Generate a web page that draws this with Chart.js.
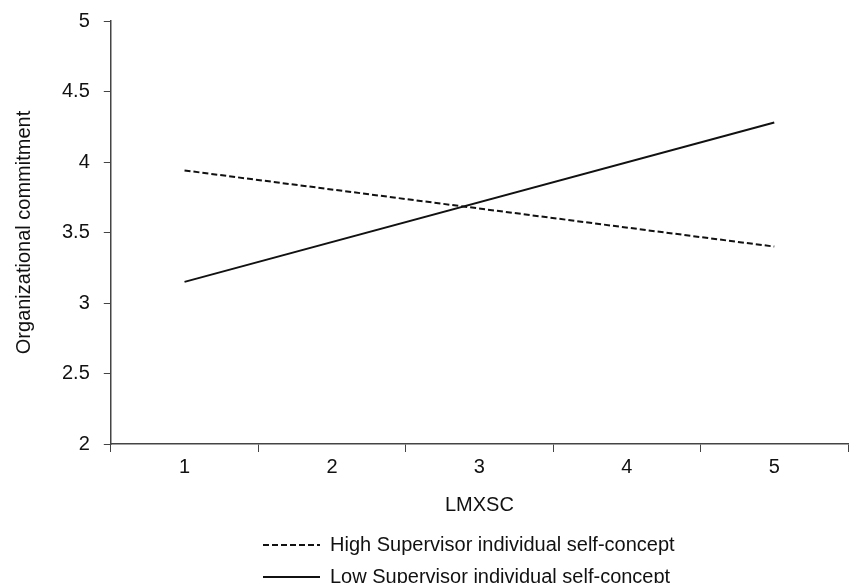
<!DOCTYPE html>
<html>
<head>
<meta charset="utf-8">
<script src="https://cdn.jsdelivr.net/npm/chart.js@4/dist/chart.umd.min.js"></script>
<style>
  html, body { margin: 0; padding: 0; background: #fff; }
  #wrap { width: 850px; height: 583px; }
</style>
</head>
<body>
<div id="wrap"><canvas id="chart1" width="850" height="583"></canvas></div>
<script>
// 데이터
var lmxscLabels = ['1', '2', '3', '4', '5'];
var highSupervisor = [3.94, null, null, null, 3.40];
var lowSupervisor = [3.15, null, null, null, 4.28];
var yTicks = [2, 2.5, 3, 3.5, 4, 4.5, 5];

var axisColor = '#444';
var textColor = '#111';
var fontFamily = 'Arial, "Liberation Sans", Helvetica, sans-serif';
var fontSize = 20;
var legendStartX = 263;

// 범례 두 줄, 왼쪽 정렬
var legendRows = {
  id: 'legendRows',
  afterLayout: function (chart) {
    var lg = chart.legend;
    if (!lg) return;
    var w = lg.left + lg.options.labels.padding + lg.right - 2 * legendStartX;
    lg.lineWidths = lg.legendItems.map(function () { return w; });
    lg.bottom = chart.height;
    lg.height = lg.bottom - lg.top;
  }
};

const ctx1 = document.getElementById('chart1');
const lineChart1 = new Chart(ctx1, {
  type: 'line',
  data: {
    labels: lmxscLabels,
    datasets: [{
      label: 'High Supervisor individual self-concept',
      data: highSupervisor,
      borderColor: '#111',
      borderWidth: 2,
      borderDash: [6, 3],
      pointRadius: 0,
      spanGaps: true,
      fill: false
    }, {
      label: 'Low Supervisor individual self-concept',
      data: lowSupervisor,
      borderColor: '#111',
      borderWidth: 2,
      pointRadius: 0,
      spanGaps: true,
      fill: false
    }]
  },
  options: {
    responsive: false,
    animation: false,
    layout: { padding: { top: 21, right: 2, left: 6, bottom: 18 } },
    plugins: {
      tooltip: { enabled: false },
      legend: {
        position: 'bottom',
        maxHeight: 42,
        labels: {
          usePointStyle: true,
          pointStyle: 'line',
          pointStyleWidth: 57,
          padding: 12,
          color: textColor,
          font: { family: fontFamily, size: fontSize },
          generateLabels: function (chart) {
            var items = Chart.defaults.plugins.legend.labels.generateLabels(chart);
            items.forEach(function (it, i) {
              it.lineDash = chart.data.datasets[i].borderDash || [];
              it.lineWidth = 2;
              it.strokeStyle = '#111';
            });
            return items;
          }
        }
      }
    },
    scales: {
      x: {
        type: 'category',
        offset: true,
        grid: {
          offset: true,
          drawOnChartArea: false,
          drawTicks: true,
          tickLength: 8,
          color: axisColor
        },
        border: { display: true, color: axisColor, width: 1.5 },
        ticks: {
          color: textColor,
          padding: 3,
          font: { family: fontFamily, size: fontSize }
        },
        title: {
          display: true,
          text: 'LMXSC',
          color: textColor,
          padding: { top: 11, bottom: 6 },
          font: { family: fontFamily, size: fontSize }
        }
      },
      y: {
        min: 2,
        max: 5,
        afterBuildTicks: function (axis) {
          axis.ticks = yTicks.map(function (v) { return { value: v }; });
        },
        afterFit: function (axis) {
          axis.paddingTop = 0;
          axis.paddingBottom = 0;
        },
        grid: {
          drawOnChartArea: false,
          drawTicks: true,
          tickLength: 7,
          color: axisColor
        },
        border: { display: true, color: axisColor, width: 1.5 },
        ticks: {
          color: textColor,
          padding: 14,
          font: { family: fontFamily, size: fontSize },
          callback: function (v) { return String(v); }
        },
        title: {
          display: true,
          text: 'Organizational commitment',
          color: textColor,
          padding: { top: 6, bottom: 12 },
          font: { family: fontFamily, size: fontSize }
        }
      }
    }
  },
  plugins: [legendRows]
});
</script>
</body>
</html>
